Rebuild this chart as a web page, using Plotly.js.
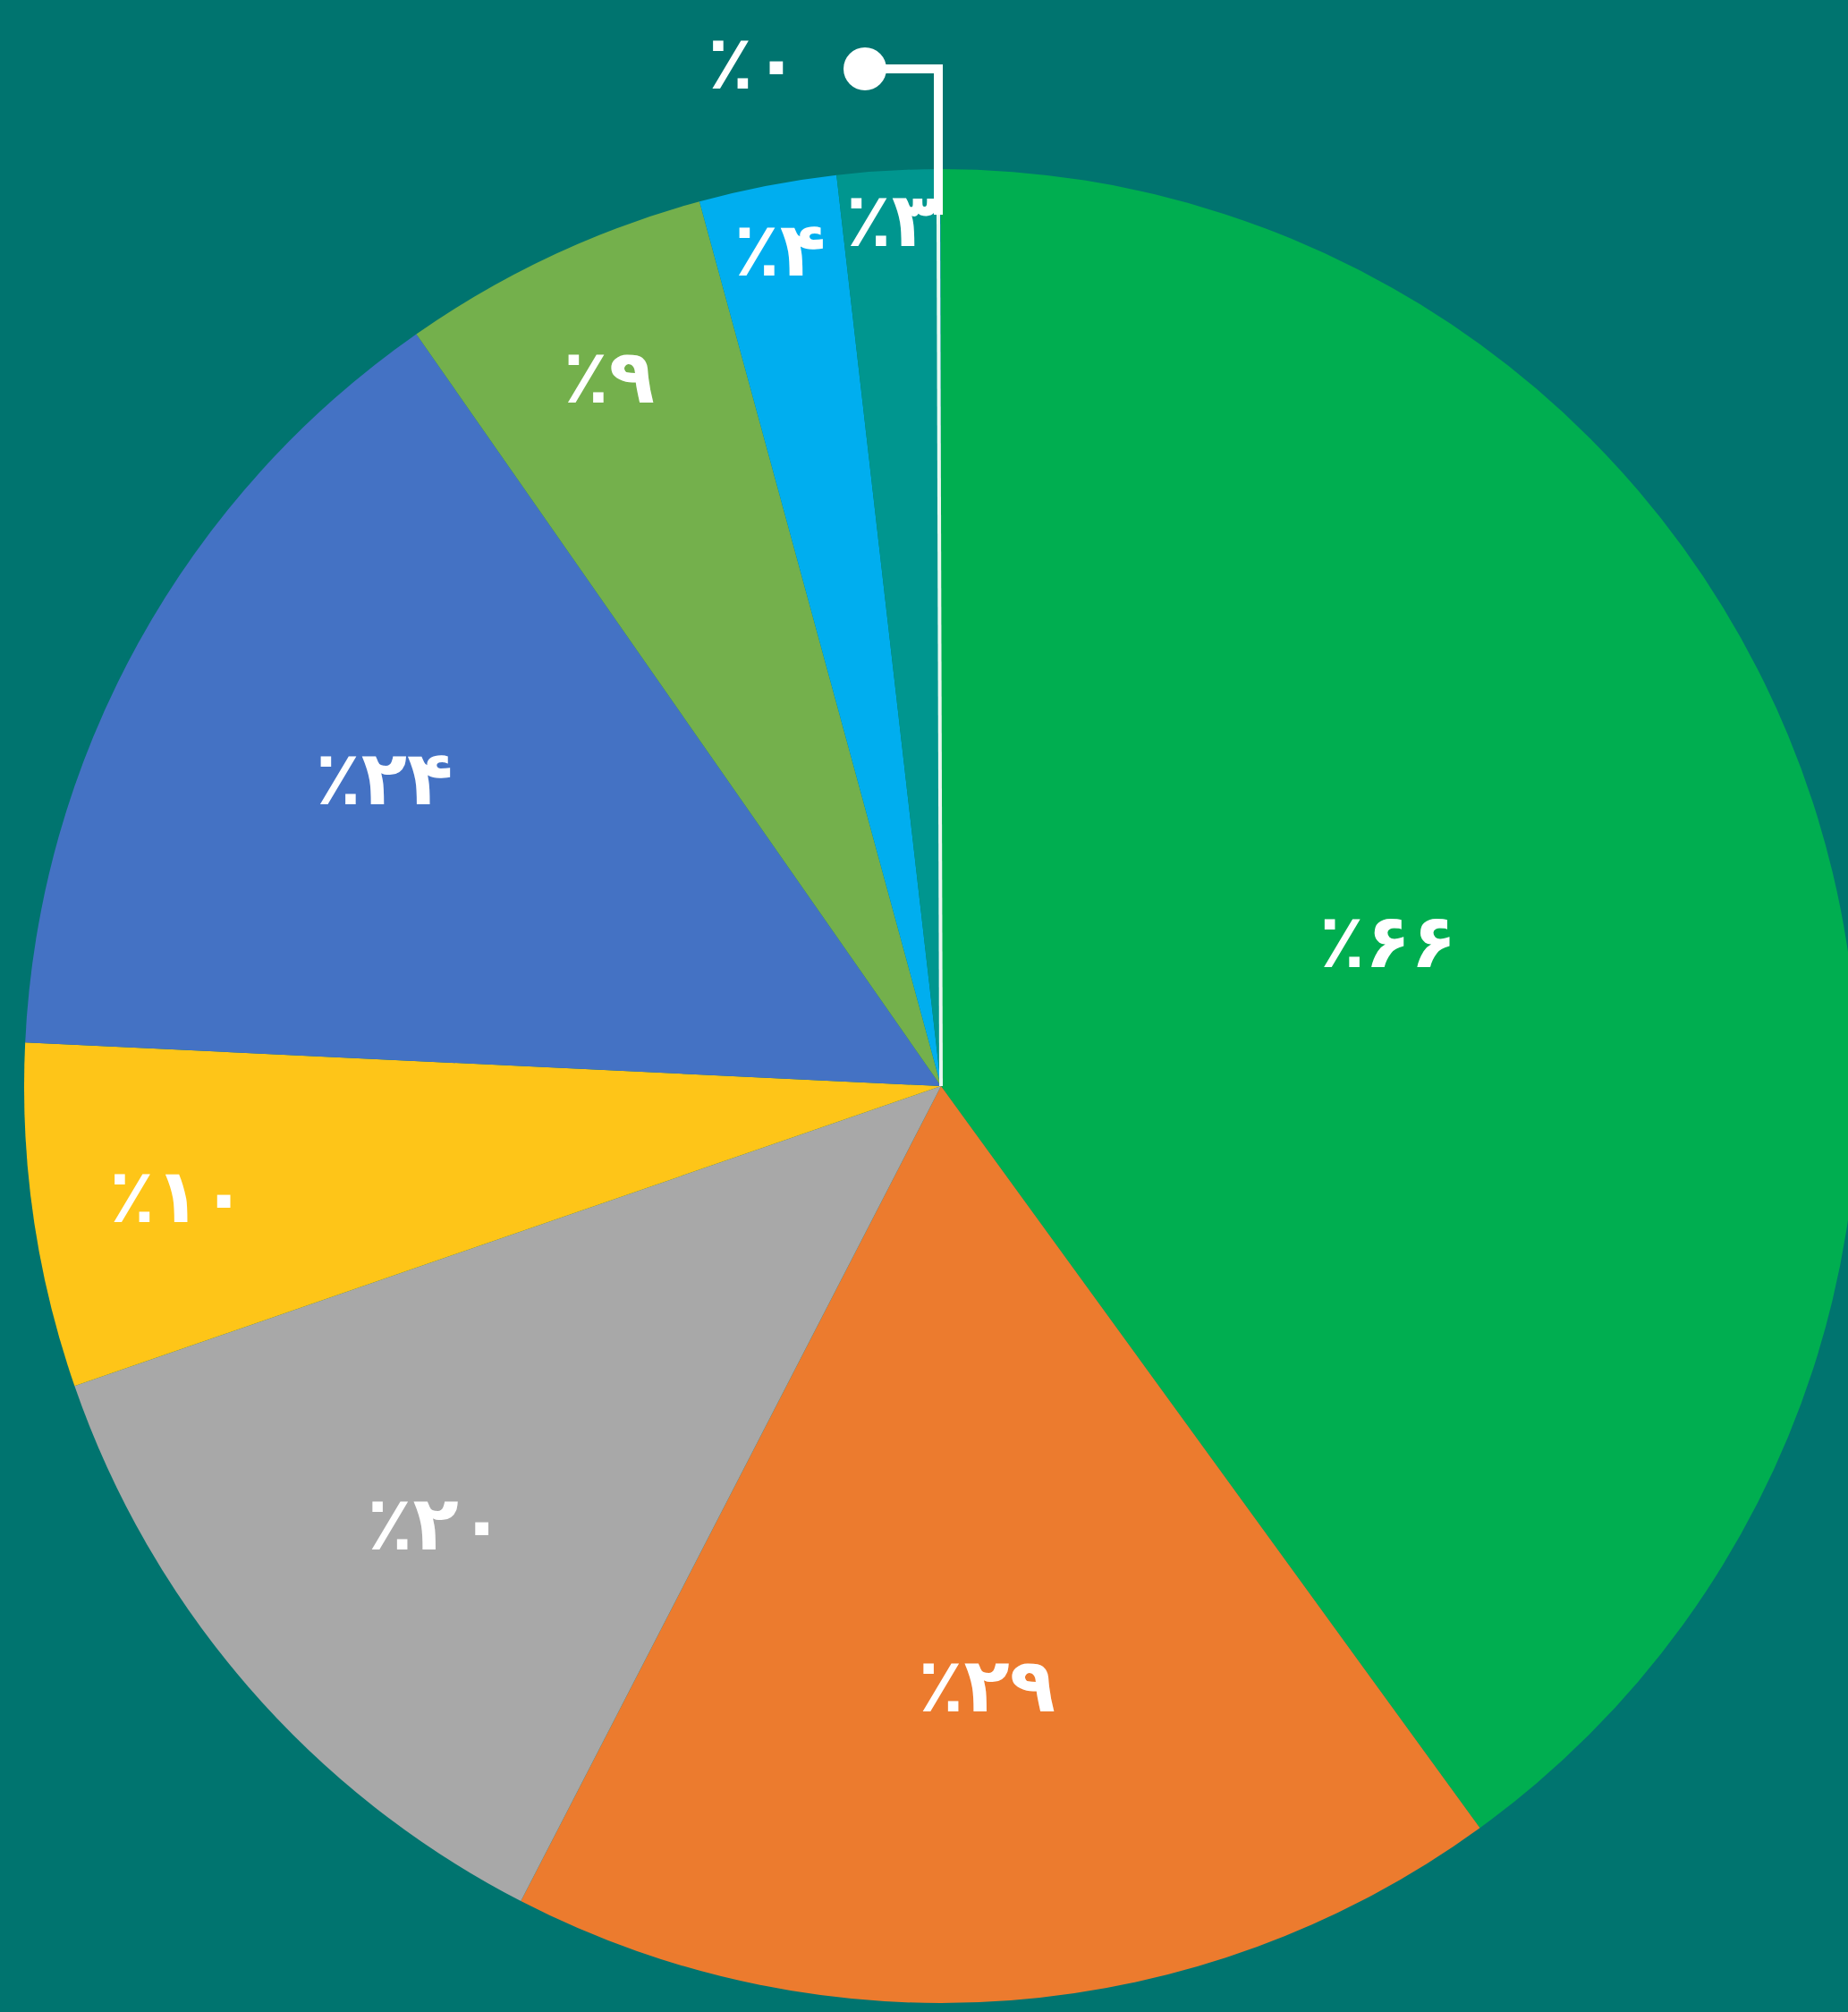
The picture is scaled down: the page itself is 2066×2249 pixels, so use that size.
<!DOCTYPE html>
<html>
<head>
<meta charset="utf-8">
<script src="https://cdn.plot.ly/plotly-3.0.1.min.js"></script>
<style>
html, body { margin:0; padding:0; overflow:hidden; background:#00746F; }
#chart { width:2090px; height:2249px; }
</style>
</head>
<body>
<div id="chart"></div>
<script>
// Data (clockwise from 12 o'clock)
const categories = ['s1','s2','s3','s4','s5','s6','s7','s8','s9'];
const values = [66, 29, 20, 10, 24, 9, 4, 3, 0];
const colors = ['#00AE50','#EC7B2E','#A8A8A8','#FEC518','#4472C4','#74B04C','#00AEEF','#00968F','#00968F'];

const faDigits = ['۰','۱','۲','۳','۴','۵','۶','۷','۸','۹'];
function toFa(n){ return String(n).replace(/[0-9]/g, d => faDigits[+d]); }
const labelsText = values.map(v => v === 0 ? '' : '٪' + toFa(v));
const zeroIdx = values.indexOf(0);

const W = 2090, H = 2249;
const FONT = 'DejaVu Sans, sans-serif';
const FS = 84;

const trace = {
  type: 'pie',
  labels: categories,
  values: values,
  text: labelsText,
  textinfo: 'text',
  texttemplate: '%{text}',
  textposition: 'inside',
  insidetextorientation: 'horizontal',
  sort: false,
  direction: 'clockwise',
  rotation: 0,
  showlegend: false,
  hoverinfo: 'none',
  marker: { colors: colors, line: { width: 0 } },
  insidetextfont: { family: FONT, size: FS, color: '#FFFFFF', weight: 'bold' },
  domain: { x: [27/W, 2077/W], y: [10/H, 2060/H] }
};

// Leader line for the zero-valued slice
const cx = 1052, cy = 1214;
const shapes = [
  { type:'path', xref:'paper', yref:'paper',
    path: `M ${967/W} ${1-77/H} L ${1049/W} ${1-77/H} L ${1049/W} ${1-240/H}`,
    line:{ color:'#FFFFFF', width:10 } },
  { type:'line', xref:'paper', yref:'paper',
    x0: 1049/W, y0: 1-240/H, x1: cx/W, y1: 1-cy/H,
    line:{ color:'#E8F8F0', width:4 } },
  { type:'circle', xref:'paper', yref:'paper',
    x0: (967-24)/W, x1: (967+24)/W, y0: 1-(77+24)/H, y1: 1-(77-24)/H,
    fillcolor:'#FFFFFF', line:{ color:'#FFFFFF', width:0 } }
];

const annotations = [
  { xref:'paper', yref:'paper', x: 842/W, y: 1-70/H, xanchor:'center', yanchor:'middle',
    text: '٪' + toFa(values[zeroIdx]), showarrow:false,
    font:{ family: FONT, size: FS, color:'#FFFFFF', weight:'bold' } }
];

const layout = {
  width: W, height: H,
  margin: { l:0, r:0, t:0, b:0, pad:0 },
  paper_bgcolor: '#00746F',
  plot_bgcolor: '#00746F',
  uniformtext: { mode: 'show', minsize: FS },
  shapes: shapes,
  annotations: annotations
};

Plotly.newPlot('chart', [trace], layout, { displayModeBar:false, staticPlot:true });
</script>
</body>
</html>
